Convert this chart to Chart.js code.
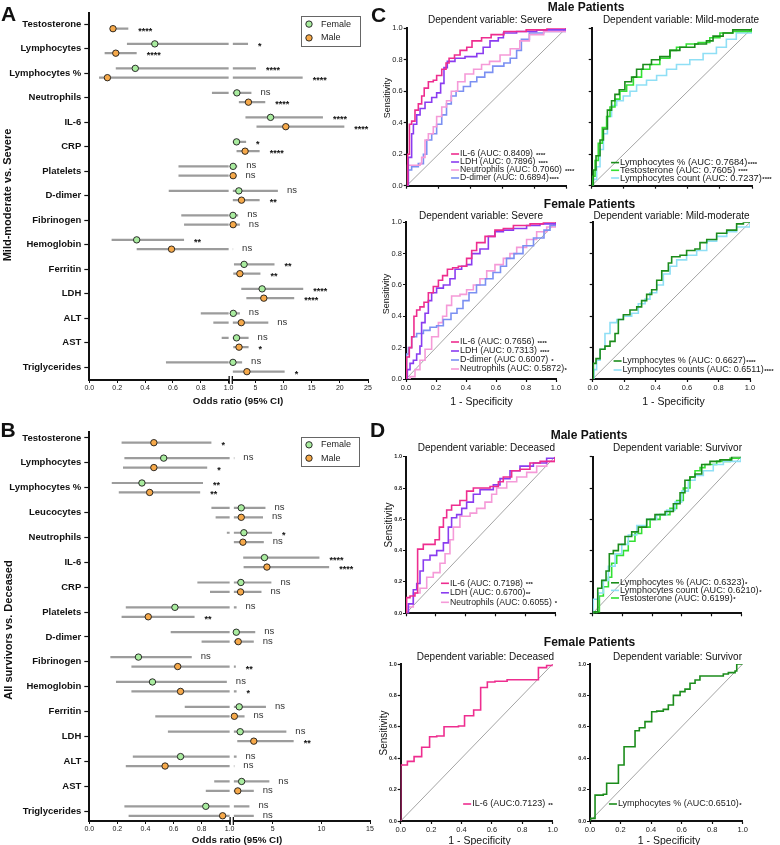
<!DOCTYPE html>
<html>
<head>
<meta charset="utf-8">
<script src="https://cdn.jsdelivr.net/npm/chart.js@4.4.1/dist/chart.umd.min.js"></script>
<style>
  body { margin: 0; background: #fff; }
  #fig { position: relative; width: 780px; height: 845px; overflow: hidden; background: #fff;
         font-family: "Liberation Sans", Arial, Helvetica, sans-serif; color: #111; }
  #fig canvas { position: absolute; }
  .t { position: absolute; white-space: nowrap; line-height: 1; transform: translate(-50%, -50%); }
  .rot { transform: translate(-50%, -50%) rotate(-90deg); }
</style>
</head>
<body>
<div id="fig"></div>
<script>
const FAM = '"Liberation Sans", Arial, Helvetica, sans-serif';

// ---------- Panel A: Mild-moderate vs. Severe (odds ratios) ----------
const catsA = ['Testosterone', 'Lymphocytes', 'Lymphocytes %', 'Neutrophils', 'IL-6', 'CRP', 'Platelets',
  'D-dimer', 'Fibrinogen', 'Hemoglobin', 'Ferritin', 'LDH', 'ALT', 'AST', 'Triglycerides'];
const femOrA  = [null, 0.47, 0.33, 1.72, 7.7, 1.66, 1.05, 2.07, 1.02, 0.34, 3.0, 6.2, 1.08, 1.66, 1.02];
const femLoA  = [null, 0.27, 0.19, 0.88, 3.24, 1.0, 0.64, 0.57, 0.66, 0.16, 1.2, 2.5, 0.8, 0.95, 0.55];
const femHiA  = [null, 3.7, 5.1, 4.3, 17.0, 3.36, 1.78, 9.0, 1.95, 0.68, 8.4, 13.5, 2.25, 3.8, 2.65];
const femSigA = [null, '*', '****', 'ns', '****', '*', 'ns', 'ns', 'ns', '**', '**', '****', 'ns', 'ns', 'ns'];
const malOrA  = [0.17, 0.19, 0.13, 3.77, 10.4, 3.18, 1.05, 2.54, 1.05, 0.59, 2.25, 6.5, 2.5, 2.1, 3.5];
const malLoA  = [0.15, 0.11, 0.07, 2.07, 5.2, 1.66, 0.64, 1.0, 0.68, 0.34, 1.08, 3.4, 0.89, 1.08, 1.0];
const malHiA  = [0.28, 0.34, 13.4, 6.76, 20.8, 5.76, 1.66, 5.76, 2.25, 1.05, 5.9, 11.9, 7.3, 3.8, 10.2];
const malSigA = ['****', '****', '****', '****', '****', '****', 'ns', '**', 'ns', 'ns', '**', '****', 'ns', '*', '*'];
const oddsTicksA = [0, 0.2, 0.4, 0.6, 0.8, 1.0, 5, 10, 15, 20, 25];

// ---------- Panel B: All survivors vs. Deceased ----------
const catsB = ['Testosterone', 'Lymphocytes', 'Lymphocytes %', 'Leucocytes', 'Neutrophils', 'IL-6', 'CRP',
  'Platelets', 'D-dimer', 'Fibrinogen', 'Hemoglobin', 'Ferritin', 'LDH', 'ALT', 'AST', 'Triglycerides'];
const femOrB  = [null, 0.53, 0.375, 1.76, 2.03, 4.15, 1.72, 0.61, 1.25, 0.35, 0.45, 1.55, 1.65, 0.65, 1.8, 0.83];
const femLoB  = [null, 0.25, 0.16, 0.87, 0.98, 1.96, 0.77, 0.26, 0.58, 0.15, 0.19, 0.68, 0.56, 0.31, 0.89, 0.25];
const femHiB  = [null, 1.05, 0.81, 4.25, 4.93, 9.8, 4.86, 1.28, 3.2, 0.73, 0.98, 4.3, 6.4, 1.28, 4.65, 2.6];
const femSigB = [null, 'ns', '**', 'ns', '*', '****', 'ns', 'ns', 'ns', 'ns', 'ns', 'ns', 'ns', 'ns', 'ns', 'ns'];
const malOrB  = [0.46, 0.46, 0.43, 1.76, 1.93, 4.4, 1.69, 0.42, 1.45, 0.63, 0.65, 1.05, 3.05, 0.54, 1.4, 0.95];
const malLoB  = [0.23, 0.24, 0.21, 0.9, 1.0, 2.0, 0.86, 0.23, 0.8, 0.3, 0.3, 0.47, 1.35, 0.26, 0.83, 0.28];
const malHiB  = [0.87, 0.84, 0.79, 4.0, 4.08, 10.8, 3.84, 0.75, 3.05, 1.2, 1.28, 2.1, 7.15, 1.05, 3.05, 3.05];
const malSigB = ['*', '*', '**', 'ns', 'ns', '****', 'ns', '**', 'ns', '**', '*', 'ns', '**', 'ns', 'ns', 'ns'];
const oddsTicksB = [0, 0.2, 0.4, 0.6, 0.8, 1.0, 5, 10, 15];

// ---------- ROC curves [1 - specificity, sensitivity] ----------
// C, male, dependent variable: severe
const cmSevIL6 = [[0,0],[0.006,0.2],[0.017,0.39],[0.031,0.41],[0.052,0.48],[0.073,0.52],[0.094,0.57],[0.11,0.62],[0.136,0.66],[0.167,0.67],[0.188,0.7],[0.22,0.74],[0.247,0.78],[0.266,0.81],[0.3,0.83],[0.335,0.86],[0.377,0.88],[0.41,0.92],[0.47,0.94],[0.53,0.96],[0.61,0.98],[0.75,0.99],[0.88,1],[1,1]];
const cmSevLDH = [[0,0],[0.01,0.18],[0.031,0.33],[0.042,0.39],[0.063,0.45],[0.084,0.49],[0.115,0.53],[0.157,0.56],[0.188,0.59],[0.213,0.65],[0.234,0.75],[0.255,0.79],[0.303,0.81],[0.366,0.82],[0.44,0.84],[0.48,0.88],[0.523,0.92],[0.575,0.94],[0.607,0.97],[0.69,0.98],[0.816,0.99],[1,1]];
const cmSevNeut = [[0,0],[0.004,0.13],[0.084,0.14],[0.094,0.18],[0.115,0.29],[0.136,0.33],[0.167,0.375],[0.188,0.44],[0.22,0.5],[0.25,0.54],[0.28,0.6],[0.32,0.66],[0.366,0.71],[0.42,0.74],[0.47,0.77],[0.52,0.79],[0.586,0.83],[0.65,0.87],[0.71,0.92],[0.77,0.96],[0.86,0.98],[1,1]];
const cmSevDdim = [[0,0],[0.01,0.1],[0.031,0.12],[0.073,0.14],[0.105,0.2],[0.126,0.29],[0.157,0.33],[0.188,0.39],[0.22,0.45],[0.25,0.52],[0.28,0.57],[0.31,0.6],[0.356,0.63],[0.4,0.66],[0.44,0.69],[0.49,0.72],[0.54,0.76],[0.61,0.78],[0.65,0.81],[0.69,0.86],[0.72,0.93],[0.77,0.97],[0.86,0.98],[1,1]];
// C, male, dependent variable: mild-moderate
const cmMildLymPct = [[0,0],[0.01,0.1],[0.027,0.19],[0.052,0.29],[0.073,0.36],[0.098,0.48],[0.124,0.54],[0.145,0.58],[0.172,0.61],[0.207,0.66],[0.249,0.69],[0.28,0.74],[0.32,0.77],[0.373,0.8],[0.425,0.82],[0.488,0.86],[0.55,0.88],[0.643,0.9],[0.716,0.92],[0.757,0.95],[0.82,0.97],[0.88,0.99],[1,1]];
const cmMildTesto = [[0,0],[0.006,0.06],[0.021,0.16],[0.041,0.27],[0.066,0.37],[0.093,0.44],[0.114,0.5],[0.145,0.55],[0.176,0.6],[0.218,0.64],[0.26,0.69],[0.311,0.74],[0.363,0.77],[0.425,0.81],[0.488,0.86],[0.529,0.88],[0.59,0.9],[0.664,0.91],[0.737,0.94],[0.8,0.97],[0.88,0.98],[1,1]];
const cmMildLymCnt = [[0,0],[0.01,0.04],[0.031,0.12],[0.052,0.23],[0.073,0.33],[0.098,0.44],[0.124,0.51],[0.156,0.54],[0.197,0.57],[0.239,0.6],[0.28,0.64],[0.342,0.67],[0.405,0.7],[0.467,0.74],[0.529,0.77],[0.612,0.8],[0.695,0.84],[0.778,0.88],[0.84,0.93],[0.902,0.97],[1,1]];
// C, female, dependent variable: severe
const cfSevIL6 = [[0,0],[0.004,0.14],[0.022,0.2],[0.038,0.27],[0.053,0.4],[0.071,0.44],[0.093,0.46],[0.12,0.49],[0.149,0.55],[0.182,0.59],[0.216,0.63],[0.244,0.66],[0.276,0.7],[0.311,0.71],[0.349,0.72],[0.404,0.77],[0.438,0.82],[0.471,0.87],[0.527,0.91],[0.593,0.95],[0.649,0.96],[0.716,0.98],[0.827,0.99],[0.916,1],[1,1]];
const cfSevLDH = [[0,0],[0.009,0.06],[0.027,0.1],[0.049,0.12],[0.071,0.16],[0.093,0.21],[0.104,0.36],[0.127,0.42],[0.149,0.5],[0.171,0.55],[0.204,0.58],[0.249,0.6],[0.293,0.64],[0.327,0.7],[0.371,0.72],[0.404,0.73],[0.438,0.8],[0.493,0.83],[0.549,0.91],[0.593,0.94],[0.649,0.95],[0.716,0.96],[0.804,0.98],[0.893,0.99],[1,1]];
const cfSevDdim = [[0,0],[0.004,0.16],[0.016,0.2],[0.038,0.27],[0.071,0.29],[0.116,0.31],[0.16,0.33],[0.204,0.34],[0.249,0.38],[0.3,0.42],[0.34,0.45],[0.38,0.5],[0.42,0.55],[0.47,0.6],[0.53,0.64],[0.58,0.68],[0.63,0.72],[0.67,0.77],[0.72,0.8],[0.78,0.85],[0.85,0.9],[0.92,0.95],[0.96,0.98],[1,1]];
const cfSevNeut = [[0,0],[0.027,0.015],[0.06,0.06],[0.093,0.12],[0.127,0.19],[0.171,0.27],[0.216,0.36],[0.244,0.4],[0.271,0.47],[0.304,0.53],[0.36,0.54],[0.404,0.57],[0.449,0.6],[0.493,0.64],[0.538,0.69],[0.593,0.73],[0.649,0.77],[0.693,0.8],[0.738,0.84],[0.804,0.89],[0.871,0.94],[0.938,0.97],[1,1]];
// C, female, dependent variable: mild-moderate
const cfMildLymPct = [[0,0],[0.004,0.1],[0.021,0.13],[0.047,0.19],[0.078,0.21],[0.11,0.24],[0.142,0.29],[0.163,0.38],[0.195,0.41],[0.237,0.44],[0.28,0.46],[0.311,0.5],[0.343,0.54],[0.375,0.57],[0.407,0.63],[0.439,0.69],[0.481,0.74],[0.502,0.78],[0.555,0.79],[0.597,0.82],[0.65,0.83],[0.682,0.87],[0.725,0.89],[0.788,0.93],[0.852,0.95],[0.915,0.99],[0.958,1],[1,1]];
const cfMildLymCnt = [[0,0],[0.008,0.06],[0.025,0.12],[0.047,0.19],[0.078,0.29],[0.11,0.36],[0.153,0.38],[0.195,0.4],[0.248,0.42],[0.29,0.48],[0.333,0.51],[0.364,0.55],[0.407,0.6],[0.449,0.67],[0.492,0.72],[0.534,0.76],[0.597,0.79],[0.661,0.82],[0.725,0.88],[0.788,0.91],[0.852,0.94],[0.915,0.97],[1,1]];
// D, male, dependent variable: deceased
const dmDecIL6 = [[0,0],[0.004,0.1],[0.027,0.11],[0.06,0.13],[0.078,0.41],[0.116,0.44],[0.161,0.44],[0.195,0.47],[0.224,0.55],[0.251,0.61],[0.273,0.66],[0.306,0.69],[0.362,0.72],[0.407,0.78],[0.452,0.8],[0.564,0.81],[0.62,0.84],[0.653,0.87],[0.709,0.91],[0.765,0.92],[0.832,0.96],[0.9,0.97],[1,1]];
const dmDecLDH = [[0,0],[0.016,0.06],[0.049,0.15],[0.072,0.19],[0.094,0.27],[0.116,0.34],[0.161,0.37],[0.206,0.4],[0.251,0.45],[0.284,0.55],[0.306,0.61],[0.34,0.63],[0.374,0.67],[0.407,0.71],[0.452,0.76],[0.497,0.79],[0.586,0.82],[0.631,0.86],[0.698,0.91],[0.765,0.94],[0.855,0.96],[0.944,0.99],[1,1]];
const dmDecNeut = [[0,0],[0.016,0.04],[0.049,0.13],[0.094,0.16],[0.139,0.23],[0.183,0.26],[0.228,0.32],[0.262,0.38],[0.295,0.47],[0.318,0.55],[0.362,0.62],[0.43,0.64],[0.474,0.67],[0.53,0.71],[0.575,0.76],[0.608,0.8],[0.676,0.84],[0.743,0.87],[0.81,0.9],[0.877,0.94],[0.944,0.97],[1,0.99]];
// D, male, dependent variable: survivor
const dmSurLymPct = [[0,0],[0.009,0.01],[0.034,0.16],[0.061,0.21],[0.09,0.27],[0.112,0.38],[0.139,0.4],[0.173,0.44],[0.218,0.49],[0.263,0.52],[0.308,0.55],[0.364,0.6],[0.42,0.63],[0.488,0.65],[0.544,0.7],[0.589,0.77],[0.622,0.85],[0.656,0.87],[0.69,0.89],[0.735,0.95],[0.791,0.97],[0.858,0.98],[0.937,1],[1,1]];
const dmSurLymCnt = [[0,0],[0.004,0.09],[0.038,0.13],[0.072,0.21],[0.106,0.3],[0.151,0.38],[0.196,0.44],[0.24,0.5],[0.297,0.56],[0.364,0.6],[0.431,0.63],[0.499,0.66],[0.555,0.71],[0.6,0.78],[0.645,0.85],[0.69,0.88],[0.746,0.91],[0.813,0.95],[0.881,0.97],[1,1]];
const dmSurTesto = [[0,0],[0.027,0.01],[0.045,0.11],[0.072,0.17],[0.106,0.23],[0.128,0.32],[0.162,0.37],[0.207,0.4],[0.24,0.46],[0.285,0.51],[0.33,0.55],[0.387,0.6],[0.454,0.63],[0.521,0.67],[0.566,0.72],[0.611,0.8],[0.656,0.87],[0.69,0.91],[0.724,0.93],[0.757,0.95],[0.836,0.97],[0.926,0.99],[1,1]];
// D, female
const dfDecIL6 = [[0,0],[0,0.357],[0.044,0.357],[0.044,0.38],[0.088,0.38],[0.088,0.41],[0.138,0.41],[0.138,0.47],[0.19,0.47],[0.19,0.537],[0.237,0.537],[0.237,0.541],[0.285,0.541],[0.285,0.6],[0.38,0.6],[0.38,0.605],[0.42,0.605],[0.42,0.67],[0.48,0.67],[0.48,0.707],[0.526,0.707],[0.526,0.85],[0.57,0.85],[0.57,0.885],[0.62,0.885],[0.62,0.89],[0.7,0.89],[0.7,0.9],[0.906,0.9],[0.906,0.977],[0.96,0.977],[0.96,0.99],[1,0.99],[1,1]];
const dfSurLymPct = [[0,0],[0,0.017],[0.033,0.017],[0.033,0.165],[0.087,0.165],[0.087,0.17],[0.109,0.17],[0.109,0.24],[0.186,0.24],[0.186,0.357],[0.223,0.357],[0.223,0.473],[0.295,0.473],[0.295,0.575],[0.323,0.575],[0.323,0.594],[0.36,0.594],[0.36,0.633],[0.404,0.633],[0.404,0.696],[0.437,0.696],[0.437,0.7],[0.48,0.7],[0.48,0.711],[0.513,0.711],[0.513,0.739],[0.546,0.739],[0.546,0.8],[0.59,0.8],[0.59,0.824],[0.622,0.824],[0.622,0.84],[0.655,0.84],[0.655,0.877],[0.688,0.877],[0.688,0.898],[0.72,0.898],[0.72,0.924],[0.873,0.924],[0.873,0.936],[0.906,0.936],[0.906,0.945],[0.95,0.945],[0.95,0.955],[0.961,0.955],[0.961,1],[1,1]];
const diagonal = [[0,0],[1,1]];

const COL = { il6: '#ee2d8f', ldh: '#8a3cf0', neut: '#f59ad8', ddim: '#7b90f2',
              lymPct: '#1b8c1b', testo: '#33e033', lymCnt: '#8fdff5' };
const GREEN = '#a9ec9f', ORANGE = '#f6a94a';

const fig = document.getElementById('fig');

function addText(str, x, y, size, bold, rot) {
  const d = document.createElement('div');
  d.className = 't' + (rot ? ' rot' : '');
  d.textContent = str;
  d.style.left = x + 'px';
  d.style.top = y + 'px';
  d.style.fontSize = size + 'px';
  d.style.fontWeight = bold ? 'bold' : 'normal';
  fig.appendChild(d);
}

function makeCanvas(left, top, w, h) {
  const c = document.createElement('canvas');
  c.width = w; c.height = h;
  c.style.left = left + 'px'; c.style.top = top + 'px';
  c.style.width = w + 'px'; c.style.height = h + 'px';
  fig.appendChild(c);
  return c;
}

// forest plot with a broken x axis: 0..1 on the left half, 1..maxV on the right half
function forest(cfg) {
  const w = Math.round(cfg.yW + cfg.plotW + cfg.padR);
  const h = Math.round(cfg.padT + cfg.plotH + cfg.xH);
  const cv = makeCanvas(cfg.left, cfg.top, w, h);
  const d2 = v => 1.03 + (v - 1) / (cfg.maxV - 1) * 0.97;
  const disp = v => v < 1 ? v : d2(v);
  const sexes = [
    { s: cfg.fem, off: -0.19, color: GREEN },
    { s: cfg.mal, off: 0.19, color: ORANGE }
  ];

  const pointSets = sexes.map(({ s, off, color }) => ({
    data: s.or.map((v, i) => v == null ? null : { x: disp(v), y: i + off }).filter(p => p),
    showLine: false, pointRadius: 3.2, pointBackgroundColor: color,
    pointBorderColor: '#1a1a1a', pointBorderWidth: 0.9, order: 0
  }));
  const ciSets = sexes.map(({ s, off }) => {
    const pts = [];
    s.lo.forEach((l, i) => {
      const hi = s.hi[i];
      if (l == null) return;
      const y = i + off;
      if (hi < 1) pts.push({ x: l, y }, { x: hi, y });
      else if (l >= 1) pts.push({ x: d2(l), y }, { x: d2(hi), y });
      else pts.push({ x: l, y }, { x: 1, y }, { x: NaN, y: NaN }, { x: d2(1), y }, { x: d2(hi), y });
      pts.push({ x: NaN, y: NaN });
    });
    return { data: pts, borderColor: '#9c9c9c', borderWidth: 2.2, pointRadius: 0, spanGaps: false, order: 1 };
  });

  const extras = {
    id: 'forestExtras',
    afterDatasetsDraw(chart) {
      const ctx = chart.ctx, xs = chart.scales.x, ys = chart.scales.y;
      ctx.save();
      ctx.textBaseline = 'middle'; ctx.textAlign = 'left';
      sexes.forEach(({ s, off }) => {
        s.hi.forEach((hi, i) => {
          if (hi == null) return;
          const x = xs.getPixelForValue(disp(hi)), y = ys.getPixelForValue(i + off);
          const t = s.sig[i];
          if (t === 'ns') {
            ctx.font = '9.5px ' + FAM; ctx.fillStyle = '#333';
            ctx.fillText(t, x + 9, y - 0.5);
          } else {
            ctx.font = 'bold 9px ' + FAM; ctx.fillStyle = '#111';
            ctx.fillText(t, x + 10, y + 2.5);
          }
        });
      });
      ctx.restore();
    },
    afterDraw(chart) {
      const ctx = chart.ctx, xs = chart.scales.x;
      // axis break marks
      const p1 = xs.getPixelForValue(1), p2 = xs.getPixelForValue(1.03), yb = xs.top;
      ctx.save();
      ctx.fillStyle = '#fff';
      ctx.fillRect(p1 + 1, yb - 3, p2 - p1 - 2, 6);
      ctx.strokeStyle = '#111'; ctx.lineWidth = 1.3;
      [p1 + 0.5, p2 - 0.5].forEach(px => {
        ctx.beginPath(); ctx.moveTo(px, yb - 4); ctx.lineTo(px, yb + 4); ctx.stroke();
      });
      // legend box
      const b = cfg.legend, bx = b.x - cfg.left, by = b.y - cfg.top;
      ctx.strokeStyle = '#666'; ctx.lineWidth = 1;
      ctx.strokeRect(bx + 0.5, by + 0.5, b.w, b.h);
      [['Female', GREEN, 0.27], ['Male', ORANGE, 0.73]].forEach(([lab, col, f]) => {
        const y = by + b.h * f;
        ctx.beginPath(); ctx.arc(bx + 8, y, 3.2, 0, Math.PI * 2);
        ctx.fillStyle = col; ctx.fill();
        ctx.strokeStyle = '#1a1a1a'; ctx.lineWidth = 0.9; ctx.stroke();
        ctx.font = '9px ' + FAM; ctx.fillStyle = '#222';
        ctx.textBaseline = 'middle'; ctx.textAlign = 'left';
        ctx.fillText(lab, bx + 20, y);
      });
      ctx.restore();
    }
  };

  const tickLabels = cfg.ticks.map(v => v <= 1 ? v.toFixed(1) : String(v));
  new Chart(cv, {
    type: 'line',
    data: { datasets: [...pointSets, ...ciSets] },
    options: {
      responsive: false, animation: false, events: [],
      layout: { autoPadding: false, padding: { top: cfg.padT, right: cfg.padR, left: 0, bottom: 0 } },
      plugins: { legend: { display: false }, tooltip: { enabled: false } },
      scales: {
        x: {
          type: 'linear', min: 0, max: 2,
          afterFit: s => { s.height = cfg.xH; },
          afterBuildTicks: s => { s.ticks = cfg.ticks.map(v => ({ value: v <= 1 ? v : d2(v) })); },
          ticks: { callback: (v, i) => tickLabels[i], font: { family: FAM, size: 7 }, color: '#222',
                   padding: 1, maxRotation: 0, autoSkip: false },
          grid: { drawOnChartArea: false, drawTicks: true, tickLength: 3, tickColor: '#111', tickWidth: 1 },
          border: { color: '#111', width: 2 }
        },
        y: {
          type: 'linear', reverse: true, min: cfg.yMin, max: cfg.yMax,
          afterFit: s => { s.width = cfg.yW; },
          afterBuildTicks: s => { s.ticks = cfg.cats.map((c, i) => ({ value: i })); },
          ticks: { callback: (v, i) => cfg.cats[i], font: { family: FAM, size: 9.5, weight: 'bold' },
                   color: '#111', padding: 3, autoSkip: false },
          grid: { drawOnChartArea: false, drawTicks: true, tickLength: 5, tickColor: '#111', tickWidth: 1.2 },
          border: { color: '#111', width: 2 }
        }
      }
    },
    plugins: [extras]
  });
}

// ROC plot; L,T,R,B is the wanted plot area on the page
function roc(cfg) {
  const left = Math.floor(cfg.L - 24), top = Math.floor(cfg.T - 6);
  const yW = cfg.L - left, padT = cfg.T - top;
  const w = Math.ceil(cfg.R - left + cfg.padR), h = Math.ceil(cfg.B - top + 18);
  const padR = w - (cfg.R - left), xH = h - (cfg.B - top);
  const cv = makeCanvas(left, top, w, h);

  const sets = cfg.curves.map(c => ({
    label: c.label, sig: c.sig,
    data: c.data.map(p => ({ x: p[0], y: p[1] })),
    borderColor: c.color, borderWidth: 1.6, pointRadius: 0, stepped: 'before', fill: false, order: 0
  }));
  sets.push({ data: diagonal.map(p => ({ x: p[0], y: p[1] })), borderColor: '#8d8d8d',
              borderWidth: 0.8, pointRadius: 0, order: 5 });

  const legend = {
    id: 'rocLegend',
    afterDraw(chart) {
      const ctx = chart.ctx, a = chart.chartArea, o = cfg.leg;
      const items = chart.data.datasets.filter(d => d.label);
      const x0 = a.left + o.x * (a.right - a.left);
      ctx.save();
      ctx.textBaseline = 'middle'; ctx.textAlign = 'left';
      items.forEach((d, k) => {
        const y = a.bottom - o.b - (items.length - 1 - k) * o.step;
        ctx.strokeStyle = d.borderColor; ctx.lineWidth = 1.6;
        ctx.beginPath(); ctx.moveTo(x0 - 9, y); ctx.lineTo(x0 - 1, y); ctx.stroke();
        ctx.font = o.size + 'px ' + FAM; ctx.fillStyle = '#1a1a1a';
        ctx.fillText(d.label, x0, y);
        const tw = ctx.measureText(d.label).width;
        ctx.font = 'bold 6px ' + FAM;
        ctx.fillText(d.sig.trim(), x0 + tw + (d.sig.startsWith(' ') ? 3 : 0.5), y + 1.5);
      });
      ctx.restore();
    }
  };

  const axis = (lab, fit) => ({
    type: 'linear', min: 0, max: 1, afterFit: fit,
    ticks: { display: !!lab, stepSize: 0.2, font: { family: FAM, size: lab || 7, weight: cfg.boldY && fit === fitY ? 'bold' : 'normal' },
             color: '#1a1a1a', padding: 1, maxRotation: 0, callback: v => v.toFixed(1) },
    grid: { drawOnChartArea: false, drawTicks: true, tickLength: 3, tickColor: '#111', tickWidth: 1.2 },
    border: { color: '#111', width: 2 }
  });
  const fitX = s => { s.height = xH; };
  const fitY = s => { s.width = yW; };

  new Chart(cv, {
    type: 'line',
    data: { datasets: sets },
    options: {
      responsive: false, animation: false, events: [],
      layout: { autoPadding: false, padding: { top: padT, right: padR, left: 0, bottom: 0 } },
      plugins: { legend: { display: false }, tooltip: { enabled: false } },
      scales: { x: axis(cfg.xTick, fitX), y: axis(cfg.yTick, fitY) }
    },
    plugins: [legend]
  });
}

// ---------- panels A and B ----------
forest({ left: 0, top: 0, yW: 89.3, padT: 13, plotH: 367, xH: 16, plotW: 278.7, padR: 8,
  cats: catsA, maxV: 25, yMin: -0.45, yMax: 14.53, ticks: oddsTicksA,
  fem: { or: femOrA, lo: femLoA, hi: femHiA, sig: femSigA },
  mal: { or: malOrA, lo: malLoA, hi: malHiA, sig: malSigA },
  legend: { x: 301, y: 16, w: 59, h: 30 } });

forest({ left: 0, top: 420, yW: 89.3, padT: 12, plotH: 389, xH: 18, plotW: 280.7, padR: 7,
  cats: catsB, maxV: 15, yMin: -0.24, yMax: 15.4, ticks: oddsTicksB,
  fem: { or: femOrB, lo: femLoB, hi: femHiB, sig: femSigB },
  mal: { or: malOrB, lo: malLoB, hi: malHiB, sig: malSigB },
  legend: { x: 301, y: 437, w: 58, h: 29 } });

// ---------- panel C ----------
roc({ L: 406.7, T: 28.3, R: 566, B: 185.7, padR: 30, yTick: 7.5, xTick: 0,
  leg: { x: 0.335, b: 7.7, step: 8, size: 8.7 },
  curves: [
    { data: cmSevIL6, color: COL.il6, label: 'IL-6 (AUC: 0.8409)', sig: ' ****' },
    { data: cmSevLDH, color: COL.ldh, label: 'LDH (AUC: 0.7896)', sig: ' ****' },
    { data: cmSevNeut, color: COL.neut, label: 'Neutrophils (AUC: 0.7060)', sig: ' ****' },
    { data: cmSevDdim, color: COL.ddim, label: 'D-dimer (AUC: 0.6894)', sig: '****' }
  ] });
roc({ L: 591.7, T: 28.3, R: 752, B: 185.7, padR: 28, yTick: 0, xTick: 0,
  leg: { x: 0.177, b: 7.7, step: 7.7, size: 9.3 },
  curves: [
    { data: cmMildLymPct, color: COL.lymPct, label: 'Lymphocytes % (AUC: 0.7684)', sig: '****' },
    { data: cmMildTesto, color: COL.testo, label: 'Testosterone (AUC: 0.7605)', sig: ' ****' },
    { data: cmMildLymCnt, color: COL.lymCnt, label: 'Lymphocytes count (AUC: 0.7237)', sig: '****' }
  ] });
roc({ L: 406, T: 222.3, R: 556, B: 379, padR: 34, yTick: 7.5, xTick: 7.5,
  leg: { x: 0.36, b: 10, step: 9, size: 8.9 },
  curves: [
    { data: cfSevIL6, color: COL.il6, label: 'IL-6 (AUC: 0.7656)', sig: ' ****' },
    { data: cfSevLDH, color: COL.ldh, label: 'LDH (AUC: 0.7313)', sig: ' ****' },
    { data: cfSevDdim, color: COL.ddim, label: 'D-dimer (AUC 0.6007)', sig: ' *' },
    { data: cfSevNeut, color: COL.neut, label: 'Neutrophils (AUC: 0.5872)', sig: '*' }
  ] });
roc({ L: 592.7, T: 222.3, R: 750, B: 379, padR: 30, yTick: 0, xTick: 7.5,
  leg: { x: 0.19, b: 9, step: 9, size: 9 },
  curves: [
    { data: cfMildLymPct, color: COL.lymPct, label: 'Lymphocytes % (AUC: 0.6627)', sig: '****' },
    { data: cfMildLymCnt, color: COL.lymCnt, label: 'Lymphocytes counts (AUC: 0.6511)', sig: '****' }
  ] });

// ---------- panel D ----------
roc({ L: 406, T: 456.7, R: 555, B: 613.3, padR: 30, yTick: 5.5, boldY: true, xTick: 0,
  leg: { x: 0.295, b: 11, step: 9.5, size: 8.7 },
  curves: [
    { data: dmDecIL6, color: COL.il6, label: 'IL-6 (AUC: 0.7198)', sig: ' ***' },
    { data: dmDecLDH, color: COL.ldh, label: 'LDH (AUC: 0.6700)', sig: '**' },
    { data: dmDecNeut, color: COL.neut, label: 'Neutrophils (AUC: 0.6055)', sig: ' *' }
  ] });
roc({ L: 592.7, T: 456.7, R: 741, B: 613.3, padR: 39, yTick: 0, xTick: 0,
  leg: { x: 0.184, b: 15.3, step: 7.6, size: 9.1 },
  curves: [
    { data: dmSurLymPct, color: COL.lymPct, label: 'Lymphocytes % (AUC: 0.6323)', sig: '*' },
    { data: dmSurLymCnt, color: COL.lymCnt, label: 'Lymphocytes count (AUC: 0.6210)', sig: '*' },
    { data: dmSurTesto, color: COL.testo, label: 'Testosterone (AUC: 0.6199)', sig: '*' }
  ] });
roc({ L: 400.7, T: 664, R: 552.7, B: 821, padR: 30, yTick: 5.5, boldY: true, xTick: 7.5,
  leg: { x: 0.47, b: 17, step: 9, size: 9 },
  curves: [ { data: dfDecIL6, color: COL.il6, label: 'IL-6 (AUC:0.7123)', sig: ' **' } ] });
roc({ L: 590, T: 664, R: 742.7, B: 821, padR: 37, yTick: 5.5, boldY: true, xTick: 7.5,
  leg: { x: 0.183, b: 17, step: 9, size: 9 },
  curves: [ { data: dfSurLymPct, color: COL.lymPct, label: 'Lymphocytes % (AUC:0.6510)', sig: '*' } ] });

// ---------- free text ----------
addText('A', 8.5, 12.5, 21, true);
addText('B', 8, 429, 21, true);
addText('C', 378.5, 13.5, 21, true);
addText('D', 377.5, 428.5, 21, true);
addText('Mild-moderate vs. Severe', 7, 195, 11, true, true);
addText('All survivors vs. Deceased', 8, 630, 11, true, true);
addText('Odds ratio (95% CI)', 238, 401, 9.8, true);
addText('Odds ratio (95% CI)', 237, 839.5, 9.8, true);

addText('Male Patients', 586, 6.5, 12, true);
addText('Dependent variable: Severe', 490, 19.5, 10);
addText('Dependent variable: Mild-moderate', 681, 19.5, 10);
addText('Sensitivity', 387, 98, 9, false, true);
addText('Female Patients', 589.5, 203.5, 12, true);
addText('Dependent variable: Severe', 481, 216, 10);
addText('Dependent variable: Mild-moderate', 671.5, 216, 10);
addText('Sensitivity', 386, 294, 9, false, true);
addText('1 - Specificity', 481.5, 401, 10.5);
addText('1 - Specificity', 673.5, 401, 10.5);

addText('Male Patients', 589, 434.5, 12, true);
addText('Dependent variable: Deceased', 486.5, 447.5, 10);
addText('Dependent variable: Survivor', 677.5, 447.5, 10);
addText('Sensitivity', 389, 525, 10, false, true);
addText('Female Patients', 589.5, 642, 12, true);
addText('Dependent variable: Deceased', 485.5, 656.5, 10);
addText('Dependent variable: Survivor', 677.5, 656.5, 10);
addText('Sensitivity', 383.5, 732.5, 10, false, true);
addText('1 - Specificity', 479.5, 840, 10.5);
addText('1 - Specificity', 669, 840, 10.5);
</script>
</body>
</html>
